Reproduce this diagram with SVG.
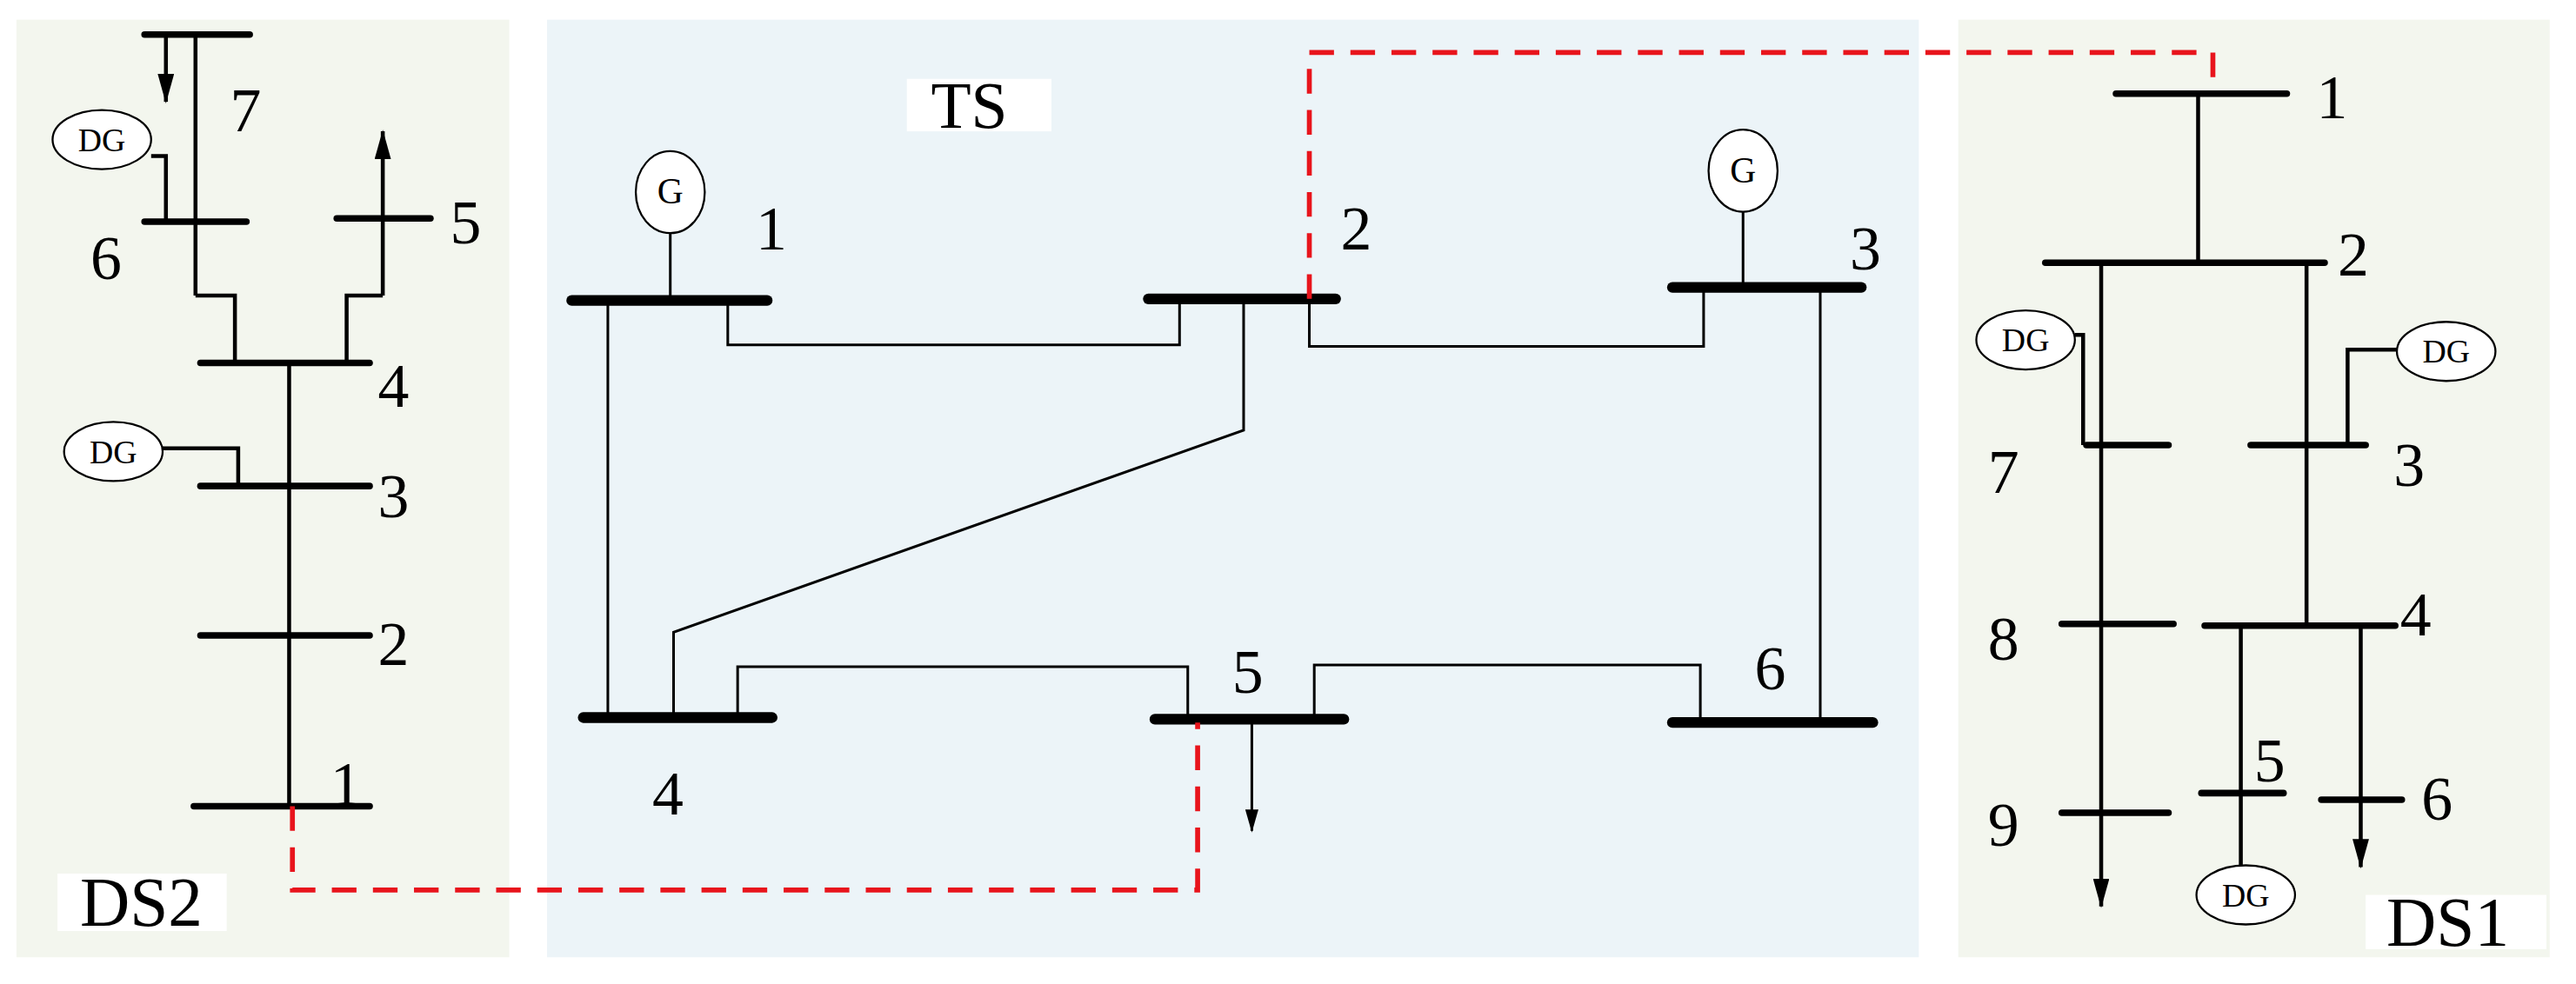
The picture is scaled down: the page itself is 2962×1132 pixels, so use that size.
<svg xmlns="http://www.w3.org/2000/svg" width="2962" height="1132" viewBox="0 0 2962 1132">
<style>
.ln{stroke:#000;stroke-width:1.6;fill:none}
.dl{stroke:#000;stroke-width:2.4;fill:none}
.bus{stroke:#000;stroke-width:4;stroke-linecap:round}
.tbus{stroke:#000;stroke-width:6.5;stroke-linecap:round}
.red{stroke:#e8141c;stroke-width:3;fill:none;stroke-dasharray:15,10}
.num{font-family:"Liberation Serif",serif;font-size:38px;fill:#000}
.dg{font-family:"Liberation Serif",serif;font-size:20px;fill:#000;text-anchor:middle}
.gen{fill:#fff;stroke:#000;stroke-width:1.2}
.ttl{font-family:"Liberation Serif",serif;font-size:38px;fill:#000;text-anchor:middle}
</style>
<defs>
<marker id="ad" viewBox="0 0 18 10" markerWidth="18" markerHeight="10" refX="17" refY="5" orient="auto" markerUnits="userSpaceOnUse"><path d="M0,0 L18,5 L0,10 Z" fill="#000"/></marker>
<marker id="as" viewBox="0 0 14 8" markerWidth="14" markerHeight="8" refX="13" refY="4" orient="auto" markerUnits="userSpaceOnUse"><path d="M0,0 L14,4 L0,8 Z" fill="#000"/></marker>
</defs>
<rect width="2962" height="1132" fill="#fff"/>
<g transform="scale(1.889)">
<rect x="10" y="12" width="300" height="571" fill="#f3f6ee"/>
<rect x="333" y="12" width="835" height="571" fill="#ecf4f8"/>
<rect x="1192" y="12" width="360" height="571" fill="#f3f6ee"/>

<g id="ds2">
<line class="bus" x1="88" y1="21" x2="152" y2="21"/>
<line class="dl" x1="119" y1="21" x2="119" y2="180"/>
<line class="dl" x1="101" y1="21" x2="101" y2="62" marker-end="url(#ad)"/>
<text class="num" x="140" y="80">7</text>
<ellipse class="gen" cx="62" cy="85" rx="30" ry="18"/><text class="dg" x="62" y="92">DG</text>
<polyline class="dl" points="92,95 101,95 101,135"/>
<line class="bus" x1="88" y1="135" x2="150" y2="135"/>
<text class="num" x="55" y="170">6</text>
<line class="bus" x1="205" y1="133" x2="262" y2="133"/>
<line class="dl" x1="233" y1="180" x2="233" y2="80" marker-end="url(#ad)"/>
<text class="num" x="274" y="148">5</text>
<polyline class="dl" points="143,221 143,180 119,180"/>
<polyline class="dl" points="211,221 211,180 233,180"/>
<line class="bus" x1="122" y1="221" x2="225" y2="221"/>
<text class="num" x="230" y="248">4</text>
<line class="dl" x1="176" y1="221" x2="176" y2="491"/>
<ellipse class="gen" cx="69" cy="275" rx="30" ry="18"/><text class="dg" x="69" y="282">DG</text>
<polyline class="dl" points="99,273 145,273 145,296"/>
<line class="bus" x1="122" y1="296" x2="225" y2="296"/>
<text class="num" x="230" y="315">3</text>
<line class="bus" x1="122" y1="387" x2="225" y2="387"/>
<text class="num" x="230" y="405">2</text>
<line class="bus" x1="118" y1="491" x2="225" y2="491"/>
<text class="num" x="201" y="490">1</text>
<rect x="35" y="532" width="103" height="35" fill="#fff"/>
<text class="ttl" x="86" y="564" style="font-size:42px">DS2</text>
</g>

<g id="ts">
<rect x="552" y="48" width="88" height="32" fill="#fff"/>
<text class="ttl" x="590" y="78" style="font-size:40px">TS</text>
<ellipse class="gen" cx="408" cy="117" rx="21" ry="25"/><text class="dg" x="408" y="124" style="font-size:22px">G</text>
<line class="ln" x1="408" y1="142" x2="408" y2="183"/>
<line class="tbus" x1="348" y1="183" x2="467" y2="183"/>
<text class="num" x="460" y="152">1</text>
<line class="tbus" x1="699" y1="182" x2="813" y2="182"/>
<text class="num" x="816" y="152">2</text>
<ellipse class="gen" cx="1061" cy="104" rx="21" ry="25"/><text class="dg" x="1061" y="111" style="font-size:22px">G</text>
<line class="ln" x1="1061" y1="129" x2="1061" y2="175"/>
<line class="tbus" x1="1018" y1="175" x2="1133" y2="175"/>
<text class="num" x="1126" y="164">3</text>
<line class="tbus" x1="355" y1="437" x2="470" y2="437"/>
<text class="num" x="397" y="496">4</text>
<line class="tbus" x1="703" y1="438" x2="818" y2="438"/>
<text class="num" x="750" y="422">5</text>
<line class="ln" x1="762" y1="438" x2="762" y2="506" marker-end="url(#as)"/>
<line class="tbus" x1="1018" y1="440" x2="1140" y2="440"/>
<text class="num" x="1068" y="420">6</text>
</g>

<g id="connectors">
<polyline class="ln" points="443,183 443,210 718,210 718,182"/>
<line class="ln" x1="370" y1="183" x2="370" y2="437"/>
<polyline class="ln" points="757,182 757,262 410,385 410,437"/>
<polyline class="ln" points="797,182 797,211 1037,211 1037,175"/>
<line class="ln" x1="1108" y1="175" x2="1108" y2="440"/>
<polyline class="ln" points="449,437 449,406 723,406 723,438"/>
<polyline class="ln" points="800,438 800,405 1035,405 1035,440"/>
<polyline class="red" points="178,491 178,542 729,542 729,440"/>
<polyline class="red" points="797,182 797,32 1347,32 1347,57"/>
</g>

<g id="ds1">
<line class="bus" x1="1288" y1="57" x2="1392" y2="57"/>
<text class="num" x="1410" y="72">1</text>
<line class="dl" x1="1338" y1="57" x2="1338" y2="160"/>
<line class="bus" x1="1245" y1="160" x2="1415" y2="160"/>
<text class="num" x="1423" y="168">2</text>
<line class="dl" x1="1279" y1="160" x2="1279" y2="552" marker-end="url(#ad)"/>
<line class="dl" x1="1404" y1="160" x2="1404" y2="381"/>
<ellipse class="gen" cx="1233" cy="207" rx="30" ry="18"/><text class="dg" x="1233" y="214">DG</text>
<polyline class="dl" points="1263,204 1268,204 1268,271"/>
<line class="bus" x1="1270" y1="271" x2="1320" y2="271"/>
<text class="num" x="1210" y="300">7</text>
<ellipse class="gen" cx="1489" cy="214" rx="30" ry="18"/><text class="dg" x="1489" y="221">DG</text>
<polyline class="dl" points="1459,213 1429,213 1429,271"/>
<line class="bus" x1="1370" y1="271" x2="1440" y2="271"/>
<text class="num" x="1457" y="296">3</text>
<line class="bus" x1="1255" y1="380" x2="1323" y2="380"/>
<text class="num" x="1210" y="402">8</text>
<line class="bus" x1="1342" y1="381" x2="1458" y2="381"/>
<text class="num" x="1461" y="387">4</text>
<line class="dl" x1="1364" y1="381" x2="1364" y2="527"/>
<line class="bus" x1="1340" y1="483" x2="1390" y2="483"/>
<text class="num" x="1372" y="476">5</text>
<ellipse class="gen" cx="1367" cy="545" rx="30" ry="18"/><text class="dg" x="1367" y="552">DG</text>
<line class="dl" x1="1437" y1="381" x2="1437" y2="528" marker-end="url(#ad)"/>
<line class="bus" x1="1413" y1="487" x2="1462" y2="487"/>
<text class="num" x="1474" y="499">6</text>
<line class="bus" x1="1255" y1="495" x2="1320" y2="495"/>
<text class="num" x="1210" y="515">9</text>
<rect x="1440" y="545" width="110" height="33" fill="#fff"/>
<text class="ttl" x="1490" y="576" style="font-size:42px">DS1</text>
</g>
</g>
</svg>
